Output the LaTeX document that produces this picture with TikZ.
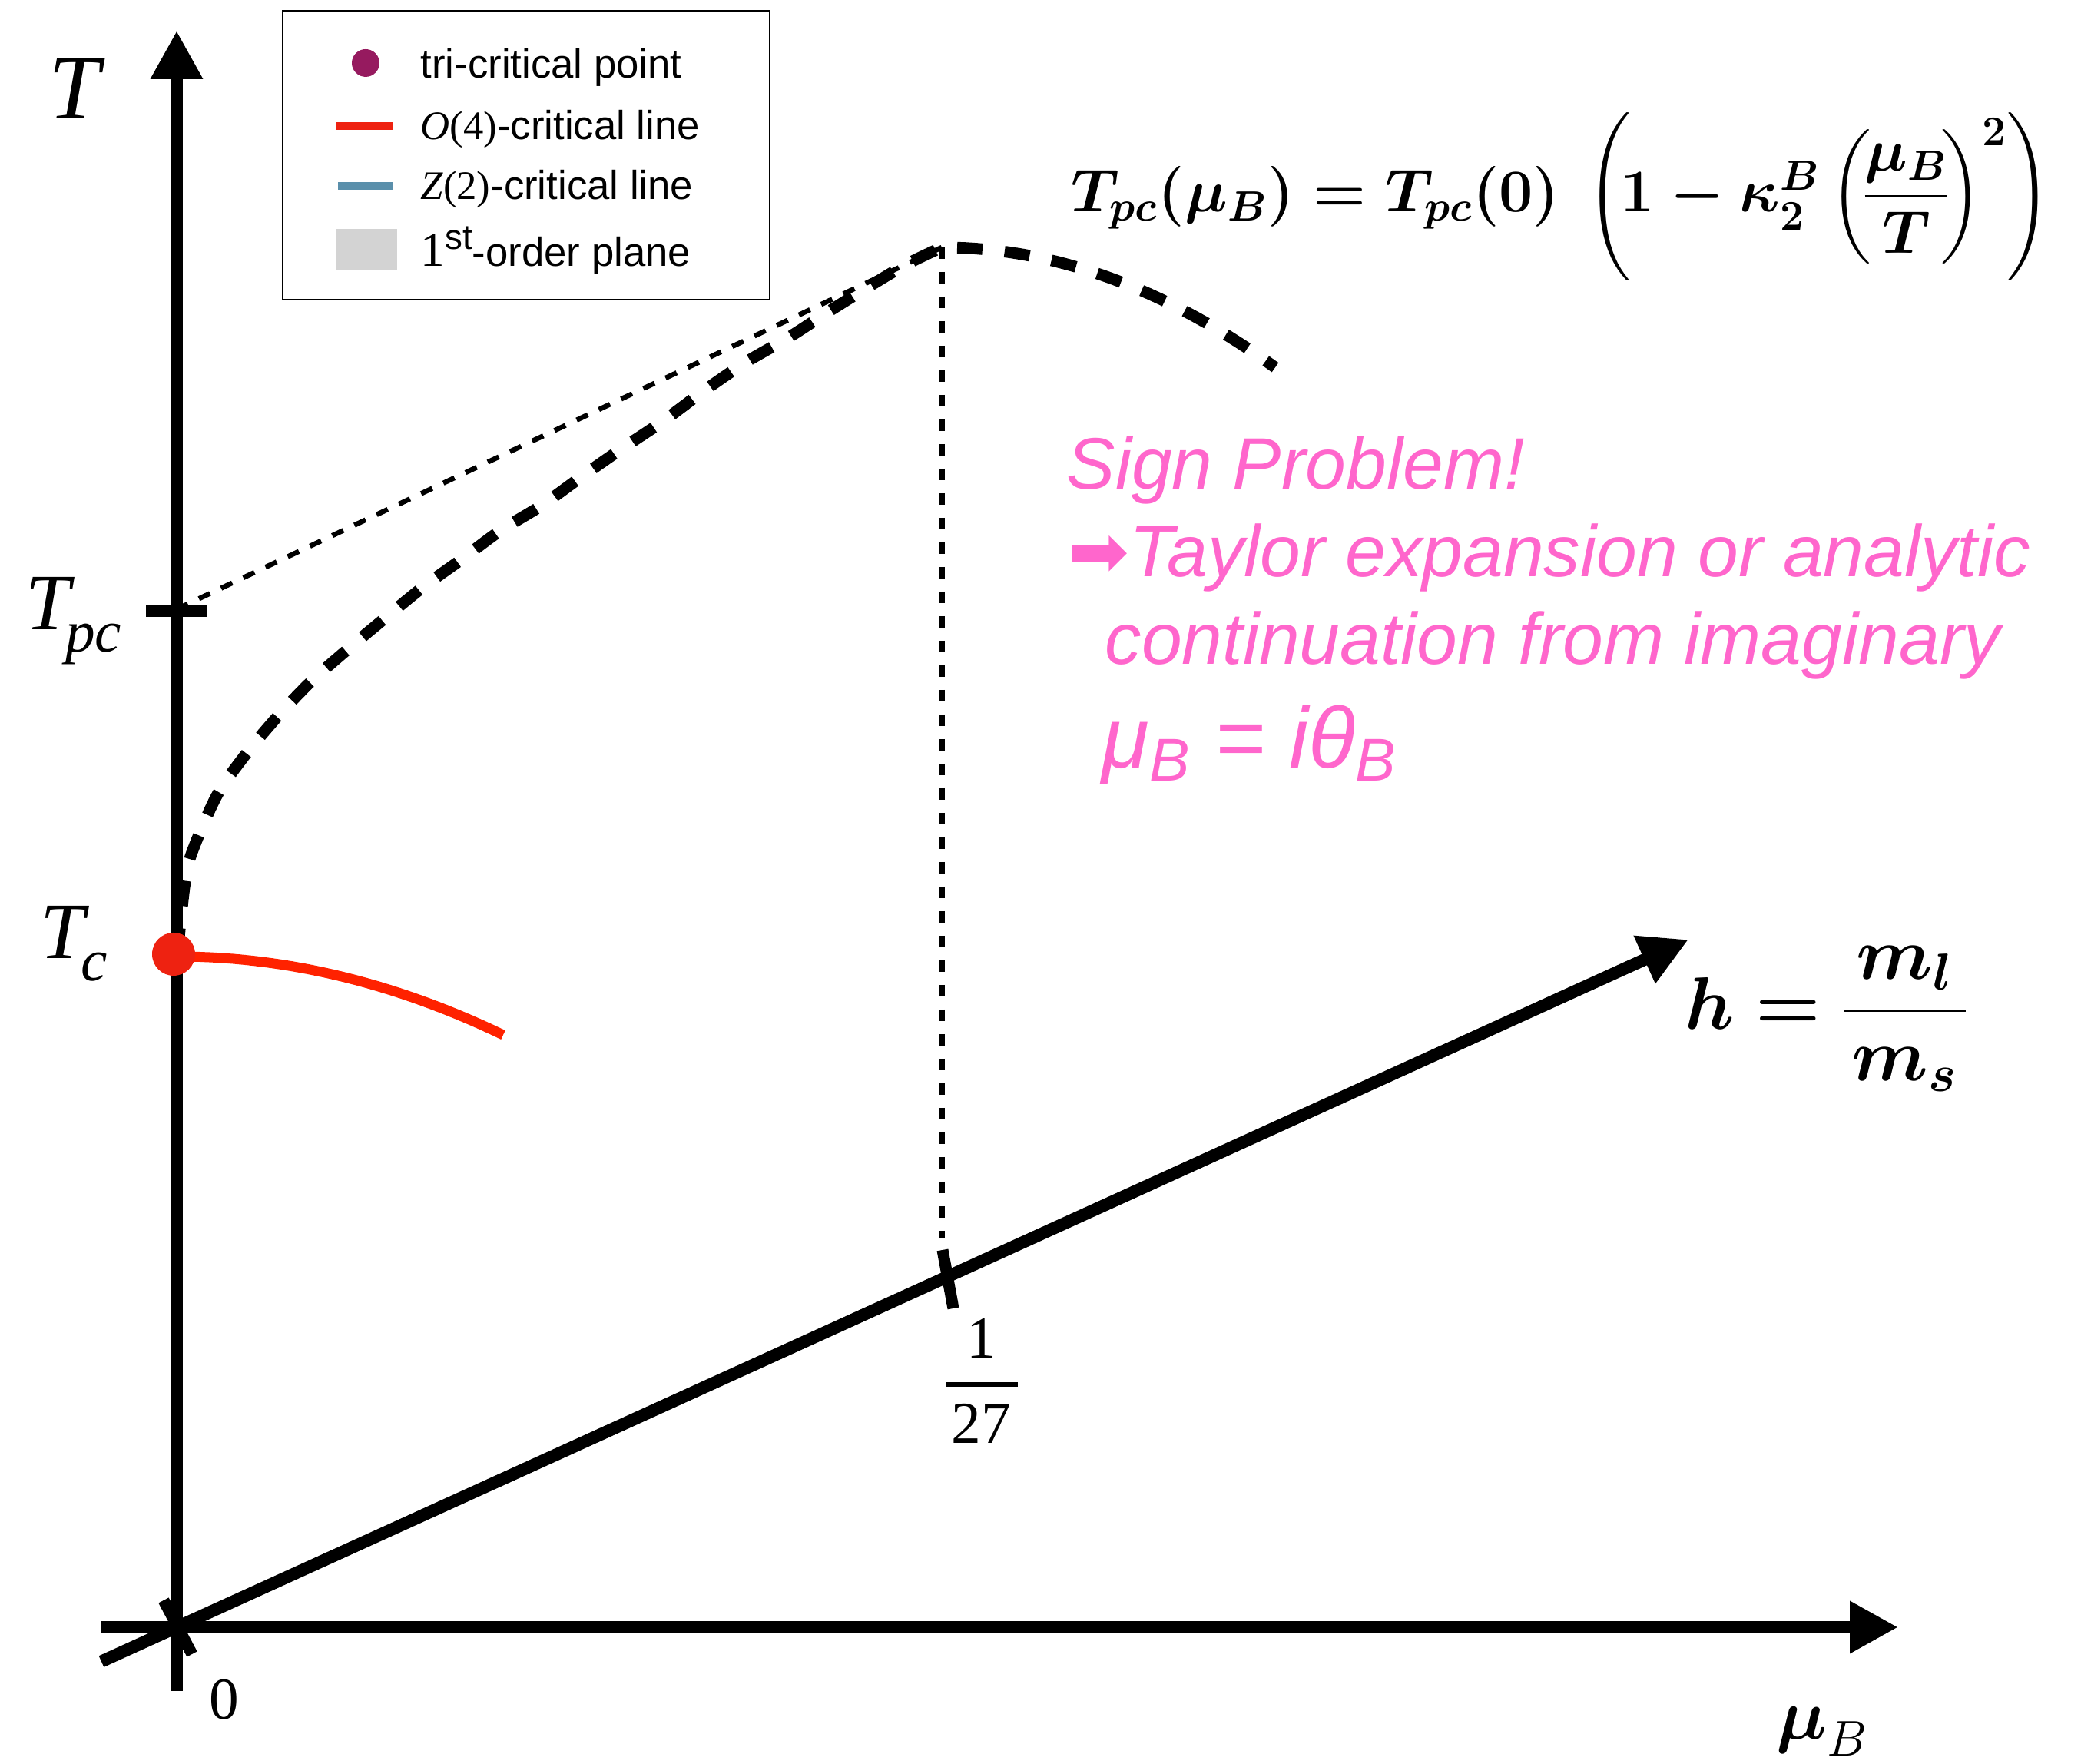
\RequirePackage{fix-cm}
\documentclass[tikz,border=0pt]{standalone}
\usepackage{amsmath}
\usepackage[no-math]{fontspec}
\setmainfont{Liberation Serif}
\setsansfont{Liberation Sans}
\newfontfamily\arrowfont{DejaVu Sans}
\usetikzlibrary{arrows.meta,positioning}

\definecolor{tricrit}{HTML}{961A5F}
\definecolor{ofourred}{HTML}{FF2200}
\definecolor{tcred}{HTML}{EE2211}
\definecolor{ztwoblue}{HTML}{5A8FAB}
\definecolor{signpink}{HTML}{FF66CC}
\definecolor{planegray}{HTML}{D3D3D3}

\begin{document}
\begin{tikzpicture}[
  axis/.style={line width=0.16cm,-{Triangle[length=0.63cm,width=0.64cm]}},
  tickmark/.style={line width=0.15cm},
  pcline/.style={line width=0.15cm,dash pattern=on 0.33cm off 0.29cm},
  thindots/.style={line width=0.065cm,dash pattern=on 0.16cm off 0.16cm},
  vdots/.style={line width=0.08cm,dash pattern=on 0.15cm off 0.17cm},
  lbl/.style={inner sep=0pt},
  leg/.style={anchor=base west,inner sep=0pt,font=\sffamily\fontsize{15}{18}\selectfont},
  sign/.style={anchor=base west,inner sep=0pt,text=signpink,font=\sffamily\itshape\fontsize{27}{32}\selectfont}]
\useasboundingbox (0,0) rectangle (27.09,22.96);

% points of the diagram
\coordinate (O) at (2.30,1.78);
\coordinate (Tbot) at (2.30,0.95);
\coordinate (Ttop) at (2.30,22.56);
\coordinate (mleft) at (1.32,1.78);
\coordinate (mtip) at (24.71,1.78);
\coordinate (hleft) at (1.32,1.334);
\coordinate (htip) at (21.98,10.73);
\coordinate (Tpc) at (2.30,15.03);
\coordinate (Tc) at (2.26,10.54);
\coordinate (peak) at (12.26,19.74);
\coordinate (vbot) at (12.26,6.84);

% pseudo-critical line and guides
\draw[thindots] (Tpc) -- (peak);
\draw[vdots] (peak) -- (vbot);
\draw[pcline] plot[smooth] coordinates {(2.31,10.55) (2.40,11.41) (2.49,11.84) (2.82,12.60)
  (3.19,13.13) (3.61,13.63) (4.05,14.09) (4.54,14.52) (5.02,14.92) (5.51,15.32) (6.01,15.68)
  (6.51,16.05) (7.05,16.38) (7.55,16.74) (8.08,17.11) (8.62,17.47) (9.16,17.87) (9.70,18.24)
  (10.27,18.57) (10.78,18.90) (11.36,19.26) (11.82,19.53) (12.26,19.74)}
  -- plot[domain=12.26:16.60,samples=30] (\x,{19.74-0.083*(\x-12.26)^2});

% O(4) line
\draw[ofourred,line width=0.13cm] plot[domain=2.30:6.55,samples=30] (\x,{10.51-0.0565*(\x-2.30)^2});

% axes
\draw[axis] (Tbot) -- (Ttop);
\draw[axis] (mleft) -- (mtip);
\draw[axis] (hleft) -- (htip);
\draw[tickmark] (1.90,15.00) -- (2.70,15.00);
\draw[tickmark] (2.13,2.13) -- (2.50,1.43);
\draw[tickmark] (12.27,6.69) -- (12.41,5.93);
\fill[tcred] (Tc) circle (0.28);

% axis labels
\node[lbl,font=\fontsize{34}{40}\selectfont\itshape] (Tlab) at (0.97,21.81) {T};
\node[lbl,anchor=base west,font=\fontsize{29.6}{36}\selectfont\itshape] (Tpclab) at (0.33,14.76)
  {T\kern-0.06em\raisebox{-0.27em}{\fontsize{22}{26}\selectfont pc}};
\node[lbl,anchor=base west,font=\fontsize{29.6}{36}\selectfont\itshape] (Tclab) at (0.52,10.48)
  {T\kern-0.05em\raisebox{-0.27em}{\fontsize{22}{26}\selectfont c}};
\node[lbl,font=\fontsize{22}{26}\selectfont] (zero) at (2.92,0.84) {0};
\node[lbl,font=\fontsize{22}{26}\selectfont] (num) at (12.78,5.54) {1};
\node[lbl,font=\fontsize{22}{26}\selectfont] (den) at (12.77,4.43) {27};
\coordinate (barl) at (12.31,4.94);
\coordinate (barr) at (13.25,4.94);
\draw[line width=0.065cm] (barl) -- (barr);
\node[lbl,anchor=west,font=\fontsize{27.5}{33}\selectfont] (hlab) at (21.93,9.70)
  {$\boldsymbol{h}\boldsymbol{=}\displaystyle\frac{\,\boldsymbol{m_l}\,}{\boldsymbol{m_s}}$};
\node[lbl,anchor=base west,font=\fontsize{26.6}{32}\selectfont] (mulab) at (23.12,0.32) {$\boldsymbol{\mu}_B$};

% formula
\node[lbl,anchor=west,font=\fontsize{22.4}{27}\selectfont] (formula) at (13.94,20.40)
  {$\boldsymbol{T_{pc}(\mu_B)=T_{pc}(0)}\;\left(\!\boldsymbol{1-\kappa_2^B}\left(\!\displaystyle\frac{\boldsymbol{\mu_B}}{\boldsymbol{T}}\!\right)^{\mathbf{2}}\right)$};

% sign problem
\node[sign] (signp) at (13.88,16.59) {Sign Problem!};
\node[sign] (taylor) at (13.90,15.45) {{\arrowfont\upshape ➡}Taylor expansion or analytic};
\node[sign] (contin) at (14.38,14.31) {continuation from imaginary};
\node[sign,font=\sffamily\itshape\fontsize{32}{38}\selectfont] (muimag) at (14.34,12.96) {μ\textsubscript{B} = iθ\textsubscript{B}};

% legend
\draw[line width=0.02cm] (3.68,19.06) rectangle (10.02,22.82);
\fill[tricrit] (4.76,22.14) circle (0.18);
\node[leg] (legtri) at (5.47,21.94) {tri-critical point};
\draw[tcred,line width=0.10cm] (4.37,21.32) -- (5.11,21.32);
\node[leg] (lego) at (5.47,21.14) {{\rmfamily\itshape O}{\rmfamily(4)}-critical line};
\draw[ztwoblue,line width=0.10cm] (4.40,20.54) -- (5.11,20.54);
\node[leg] (legz) at (5.47,20.36) {{\rmfamily\itshape Z}{\rmfamily(2)}-critical line};
\fill[planegray] (4.37,19.44) rectangle (5.17,19.98);
\node[leg] (legplane) at (5.47,19.49) {{\rmfamily\fontsize{18}{22}\selectfont 1}\raisebox{0.42em}{\fontsize{13}{15}\selectfont st}-order plane};
\end{tikzpicture}
\end{document}
